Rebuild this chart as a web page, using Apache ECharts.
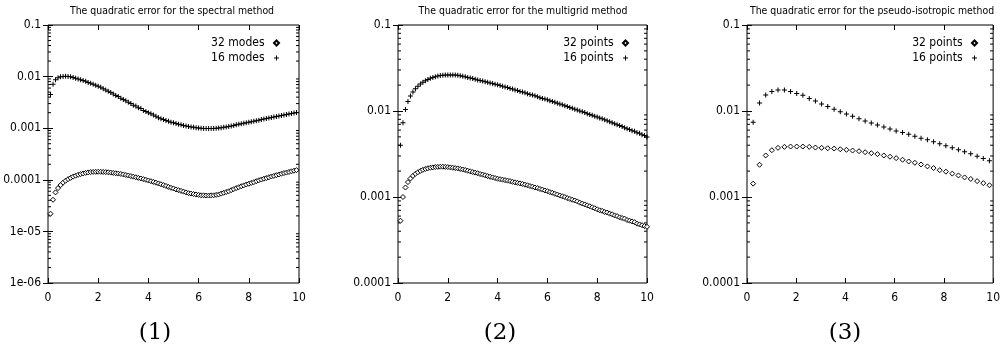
<!DOCTYPE html>
<html><head><meta charset="utf-8">
<script src="https://cdn.jsdelivr.net/npm/echarts@6/dist/echarts.min.js"></script>
<style>html,body{margin:0;padding:0;background:#fff}#c{width:1003px;height:354px}</style>
</head><body><div id="c"></div>
<script>
// ---------- data ----------
const titles = ['The quadratic error for the spectral method','The quadratic error for the multigrid method','The quadratic error for the pseudo-isotropic method'];
const captions = ['(1)','(2)','(3)'];
const seriesNames = [['32 modes','16 modes'],['32 points','16 points'],['32 points','16 points']];
const xTicks = [0,2,4,6,8,10];
const yTickLabels = ['1e-06','1e-05','0.0001','0.001','0.01','0.1'];
const yMin = [1e-6, 1e-4, 1e-4];
const yMax = [0.1, 0.1, 0.1];

const xs1 = [0.1,0.2,0.3,0.4,0.5,0.6,0.7,0.8,0.9,1.0,1.1,1.2,1.3,1.4,1.5,1.6,1.7,1.8,1.9,2.0,
2.1,2.2,2.3,2.4,2.5,2.6,2.7,2.8,2.9,3.0,3.1,3.2,3.3,3.4,3.5,3.6,3.7,3.8,3.9,4.0,
4.1,4.2,4.3,4.4,4.5,4.6,4.7,4.8,4.9,5.0,5.1,5.2,5.3,5.4,5.5,5.6,5.7,5.8,5.9,6.0,
6.1,6.2,6.3,6.4,6.5,6.6,6.7,6.8,6.9,7.0,7.1,7.2,7.3,7.4,7.5,7.6,7.7,7.8,7.9,8.0,
8.1,8.2,8.3,8.4,8.5,8.6,8.7,8.8,8.9,9.0,9.1,9.2,9.3,9.4,9.5,9.6,9.7,9.8,9.9];
const spectral16 = [0.0045,0.0071,0.0087,0.0095,0.0099,0.0101,0.0102,0.0101,0.0099,0.0096,
0.0093,0.0090,0.0087,0.0084,0.0081,0.0077,0.0074,0.0071,0.0068,0.0065,
0.0062,0.0058,0.0055,0.0052,0.0049,0.0046,0.0043,0.0041,0.0038,0.0036,
0.0034,0.0032,0.0030,0.0028,0.0027,0.0025,0.0024,0.0022,0.0021,0.0020,
0.0019,0.0018,0.0017,0.0016,0.00153,0.00147,0.00141,0.00136,0.00131,0.00127,
0.00123,0.00119,0.00116,0.00113,0.00110,0.00108,0.00106,0.00104,0.00102,0.00101,
0.00100,0.00099,0.00099,0.00099,0.00099,0.00099,0.00100,0.00101,0.00102,0.00104,
0.00106,0.00108,0.00110,0.00113,0.00116,0.00119,0.00122,0.00125,0.00128,0.00131,
0.00134,0.00137,0.00140,0.00143,0.00147,0.00150,0.00154,0.00157,0.00161,0.00164,
0.00168,0.00172,0.00176,0.00180,0.00184,0.00188,0.00193,0.00197,0.00202];
const spectral32 = [2.2e-5,4.1e-5,5.7e-5,6.9e-5,7.9e-5,8.8e-5,9.6e-5,1.03e-4,1.09e-4,1.15e-4,
1.20e-4,1.25e-4,1.29e-4,1.33e-4,1.36e-4,1.39e-4,1.41e-4,1.42e-4,1.43e-4,1.43e-4,
1.43e-4,1.42e-4,1.41e-4,1.40e-4,1.38e-4,1.36e-4,1.34e-4,1.32e-4,1.30e-4,1.27e-4,
1.24e-4,1.21e-4,1.18e-4,1.15e-4,1.12e-4,1.09e-4,1.06e-4,1.03e-4,1.00e-4,9.7e-5,
9.4e-5,9.1e-5,8.8e-5,8.5e-5,8.2e-5,7.9e-5,7.6e-5,7.3e-5,7.0e-5,6.8e-5,
6.5e-5,6.3e-5,6.1e-5,5.9e-5,5.7e-5,5.5e-5,5.4e-5,5.3e-5,5.2e-5,5.1e-5,
5.0e-5,5.0e-5,4.95e-5,4.95e-5,5.0e-5,5.0e-5,5.1e-5,5.2e-5,5.4e-5,5.6e-5,
5.8e-5,6.0e-5,6.3e-5,6.6e-5,6.9e-5,7.2e-5,7.5e-5,7.8e-5,8.1e-5,8.4e-5,
8.7e-5,9.0e-5,9.4e-5,9.8e-5,1.01e-4,1.05e-4,1.08e-4,1.12e-4,1.16e-4,1.19e-4,
1.23e-4,1.27e-4,1.31e-4,1.35e-4,1.38e-4,1.42e-4,1.46e-4,1.50e-4,1.54e-4];

const xs2 = [0.1,0.2,0.3,0.4,0.5,0.6,0.7,0.8,0.9,1.0,1.1,1.2,1.3,1.4,1.5,1.6,1.7,1.8,1.9,2.0,
2.1,2.2,2.3,2.4,2.5,2.6,2.7,2.8,2.9,3.0,3.1,3.2,3.3,3.4,3.5,3.6,3.7,3.8,3.9,4.0,
4.1,4.2,4.3,4.4,4.5,4.6,4.7,4.8,4.9,5.0,5.1,5.2,5.3,5.4,5.5,5.6,5.7,5.8,5.9,6.0,
6.1,6.2,6.3,6.4,6.5,6.6,6.7,6.8,6.9,7.0,7.1,7.2,7.3,7.4,7.5,7.6,7.7,7.8,7.9,8.0,
8.1,8.2,8.3,8.4,8.5,8.6,8.7,8.8,8.9,9.0,9.1,9.2,9.3,9.4,9.5,9.6,9.7,9.8,9.9,10.0];
const multigrid16 = [0.0040,0.0073,0.0104,0.0129,0.0149,0.0166,0.0181,0.0194,0.0206,0.0216,
0.0225,0.0233,0.0240,0.0246,0.0251,0.0255,0.0258,0.0261,0.0262,0.0263,
0.0263,0.0263,0.0262,0.0260,0.0257,0.0254,0.0250,0.0246,0.0242,0.0238,
0.0234,0.0230,0.0227,0.0223,0.0219,0.0216,0.0212,0.0209,0.0205,0.0202,
0.0198,0.0194,0.0190,0.0187,0.0183,0.0180,0.0176,0.0173,0.0169,0.0166,
0.0163,0.0159,0.0156,0.0153,0.0150,0.0146,0.0143,0.0140,0.0138,0.0135,
0.0132,0.0129,0.0126,0.0123,0.0121,0.0118,0.0115,0.0113,0.0110,0.0108,
0.0105,0.0103,0.0100,0.0098,0.0096,0.0093,0.0091,0.0089,0.0087,0.0085,
0.0083,0.0081,0.0079,0.0077,0.0075,0.0073,0.0071,0.0069,0.0068,0.0066,
0.0064,0.0062,0.0061,0.0059,0.0058,0.0056,0.0055,0.0053,0.0052,0.0050];
const multigrid32 = [0.00053,0.00100,0.00129,0.00149,0.00164,0.00176,0.00186,0.00194,0.00201,0.00207,
0.00212,0.00216,0.00219,0.00221,0.00223,0.00224,0.00225,0.00225,0.00224,0.00223,
0.00221,0.00219,0.00217,0.00215,0.00212,0.00209,0.00206,0.00202,0.00199,0.00195,
0.00192,0.00189,0.00185,0.00182,0.00179,0.00175,0.00172,0.00169,0.00166,0.00163,
0.00161,0.00159,0.00157,0.00155,0.00153,0.00150,0.00148,0.00146,0.00144,0.00142,
0.00139,0.00137,0.00134,0.00132,0.00129,0.00127,0.00124,0.00122,0.00119,0.00117,
0.00114,0.00112,0.00109,0.00107,0.00104,0.00102,0.00100,0.00097,0.00095,0.00093,
0.00091,0.00089,0.00086,0.00084,0.00082,0.00080,0.00078,0.00076,0.00074,0.00072,
0.00070,0.00069,0.00067,0.00066,0.00064,0.00063,0.00061,0.00060,0.00058,0.00057,
0.00056,0.00054,0.00053,0.00052,0.00051,0.00049,0.00048,0.00047,0.00046,0.00045];

const xs3 = [0.25,0.51,0.76,1.01,1.26,1.52,1.77,2.02,2.27,2.53,2.78,3.03,3.28,3.54,3.79,4.04,4.29,4.55,4.80,5.05,
5.30,5.56,5.81,6.06,6.32,6.57,6.82,7.07,7.33,7.58,7.83,8.08,8.34,8.59,8.84,9.09,9.35,9.60,9.85];
const pseudo16 = [0.00738,0.0124,0.0153,0.0169,0.0176,0.0175,0.0169,0.0160,0.0152,0.0140,
0.0131,0.0121,0.0113,0.0105,0.0098,0.0092,0.0087,0.0081,0.00766,0.00726,
0.00689,0.00653,0.00619,0.00587,0.00561,0.00536,0.00508,0.00482,0.00462,0.00438,
0.00415,0.00394,0.00373,0.00354,0.00335,0.00318,0.00298,0.00281,0.00264];
const pseudo32 = [0.00143,0.00237,0.00304,0.00350,0.00373,0.00383,0.00386,0.00386,0.00386,0.00383,
0.00376,0.00373,0.00369,0.00366,0.00359,0.00354,0.00347,0.00341,0.00332,0.00323,
0.00315,0.00304,0.00294,0.00283,0.00271,0.00259,0.00250,0.00239,0.00227,0.00217,
0.00205,0.00197,0.00187,0.00178,0.00169,0.00162,0.00153,0.00145,0.00137,0.00127];

const panels = [
  {xs: xs1, a: spectral32, b: spectral16},
  {xs: xs2, a: multigrid32, b: multigrid16},
  {xs: xs3, a: pseudo32, b: pseudo16}
];
const minorMultipliers = [2,3,4,5,6,7,8,9];

// ---------- layout / style ----------
const FONT = "'Liberation Sans Narrow','DejaVu Sans Condensed','Liberation Sans',sans-serif";
const grids = [
  {left: 48, top: 25, width: 251, height: 258},
  {left: 398, top: 25, width: 249, height: 258},
  {left: 747, top: 25, width: 250, height: 258}
];
const titleCenters = [172, 523, 872];
const captionCenters = [155, 500, 845];
const legendRights = [723, 374, 25];
const PLUS = 'path://M2,0H3V2H5V3H3V5H2V3H0V2H2Z';

const option = {
  animation: false,
  backgroundColor: '#fff',
  title: [],
  legend: [],
  grid: [],
  xAxis: [],
  yAxis: [],
  series: []
};

function yLabel(v) {
  const e = Math.round(Math.log10(v));
  return yTickLabels[e + 6];
}

for (let g = 0; g < 3; g++) {
  option.grid.push(Object.assign({show: true, borderColor: '#000', borderWidth: 1, backgroundColor: 'transparent'}, grids[g]));
  option.title.push({text: titles[g], left: titleCenters[g], top: 6, textAlign: 'center', padding: 0,
    textStyle: {fontFamily: FONT, fontSize: 10.4, fontWeight: 'normal', color: '#000'}});
  option.title.push({text: captions[g], left: captionCenters[g], top: 322, textAlign: 'center', padding: 0,
    textStyle: {fontFamily: "'DejaVu Serif','Liberation Serif',serif", fontSize: 23, fontWeight: 'normal', color: '#000'}});
  // bottom x
  option.xAxis.push({type: 'value', gridIndex: g, min: 0, max: 10, interval: 2, position: 'bottom',
    axisLine: {show: false}, splitLine: {show: false},
    axisTick: {show: true, inside: true, length: 5, lineStyle: {color: '#000'}},
    axisLabel: {show: true, margin: 9, color: '#000', fontFamily: FONT, fontSize: 12,
      formatter: v => xTicks.indexOf(v) >= 0 ? String(v) : ''}});
  // left y
  option.yAxis.push({type: 'log', logBase: 10, gridIndex: g, min: yMin[g], max: yMax[g], position: 'left',
    axisLine: {show: false}, splitLine: {show: false},
    axisTick: {show: true, inside: true, length: 5, lineStyle: {color: '#000'}},
    axisLabel: {show: true, margin: 7, color: '#000', fontFamily: FONT, fontSize: 12, formatter: yLabel}});
}
for (let g = 0; g < 3; g++) {
  // top mirror x
  option.xAxis.push({type: 'value', gridIndex: g, min: 0, max: 10, interval: 2, position: 'top',
    axisLine: {show: false}, splitLine: {show: false},
    axisTick: {show: true, inside: true, length: 5, lineStyle: {color: '#000'}},
    axisLabel: {show: false}});
  // right mirror y
  option.yAxis.push({type: 'log', logBase: 10, gridIndex: g, min: yMin[g], max: yMax[g], position: 'right',
    axisLine: {show: false}, splitLine: {show: false},
    axisTick: {show: true, inside: true, length: 5, lineStyle: {color: '#000'}},
    axisLabel: {show: false}});
}

for (let g = 0; g < 3; g++) {
  const p = panels[g];
  option.series.push({
    name: seriesNames[g][0], type: 'scatter', xAxisIndex: g, yAxisIndex: g,
    symbol: 'diamond', symbolSize: 5,
    itemStyle: {color: '#fff', borderColor: '#000', borderWidth: 1, opacity: 1},
    data: p.xs.map((x, i) => [x, p.a[i]])
  });
  option.series.push({
    name: seriesNames[g][1], type: 'scatter', xAxisIndex: g, yAxisIndex: g,
    symbol: PLUS, symbolSize: 5,
    itemStyle: {color: '#000', opacity: 1},
    data: p.xs.map((x, i) => [x, p.b[i]])
  });
  // log minor ticks (left & right)
  const minorVals = [];
  const eMin = Math.round(Math.log10(yMin[g])), eMax = Math.round(Math.log10(yMax[g]));
  for (let e = eMin; e < eMax; e++) minorMultipliers.forEach(m => minorVals.push([0, m * Math.pow(10, e)]));
  option.series.push({
    type: 'custom', xAxisIndex: g, yAxisIndex: g, silent: true, clip: false,
    encode: {x: 0, y: 1},
    data: minorVals,
    renderItem: function (params, api) {
      const v = api.value(1);
      const l = api.coord([0, v]);
      const r = api.coord([10, v]);
      return {type: 'group', children: [
        {type: 'line', shape: {x1: l[0], y1: l[1], x2: l[0] + 3, y2: l[1]}, style: {stroke: '#000', lineWidth: 1}},
        {type: 'line', shape: {x1: r[0] - 3, y1: r[1], x2: r[0], y2: r[1]}, style: {stroke: '#000', lineWidth: 1}}
      ]};
    }
  });
  option.legend.push({
    data: [{name: seriesNames[g][0], icon: 'diamond'}, {name: seriesNames[g][1], icon: PLUS}],
    orient: 'vertical', right: legendRights[g], top: 37, align: 'right', padding: 0,
    itemWidth: 5, itemHeight: 5, itemGap: 3, selectedMode: false,
    formatter: name => name + ' \u200A',
    textStyle: {fontFamily: FONT, fontSize: 12, color: '#000'}
  });
}

const chart = echarts.init(document.getElementById('c'), null, {renderer: 'canvas'});
chart.setOption(option);
</script>
</body></html>
